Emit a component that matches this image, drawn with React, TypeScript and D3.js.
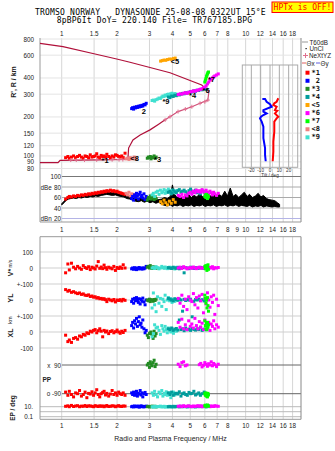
import React from "react";
import * as d3 from "d3";

// ---------------- tick labels ----------------
const freqTicksTop = [1, 1.5, 2, 3, 4, 5, 6, 7, 8, 10, 12, 14, 16, 18];
const freqTicksMid = [1, 1.5, 2, 3, 4, 5, 6, 7, 8, 9, 10, 12, 14, 16, 18];
const freqGrid = [1, 1.5, 2, 3, 4, 5, 6, 7, 8, 10, 12, 14, 16, 18];
const heightTicks = [800, 600, 400, 300, 200, 150, 120, 100, 90, 80];
const dbTicks = [80, 60, 40];
const tiltTicks = [-20, -10, 0, 10, 20];

// ---------------- profile curves ----------------
const upperF = [0.762, 1.016, 1.518, 2.017, 2.35, 3.88, 5.77, 6.25];
const upperH = [741, 698, 613, 558, 529, 439, 353, 317];
const lowF = [0.762, 0.955, 0.98, 1.6, 2.29, 2.31, 2.44, 2.67, 3.02, 3.35, 3.65];
const lowH = [88.7, 88.7, 92.5, 93.2, 93.9, 115, 133, 145, 159, 175, 190];
const nextF = [3.65, 3.88, 4.29, 5.1, 5.65, 6.23, 6.33];
const nextH = [190, 201, 220, 240, 255, 270, 323];
const markF = [1.12, 1.2, 1.33, 1.55, 1.88, 2.05, 2.15, 3.65, 3.88, 4.29, 4.7, 5.1, 5.65, 6.0, 6.23];
const markH = [93, 93, 93, 93.2, 93.5, 93.7, 93.8, 190, 201, 220, 230, 240, 255, 262, 270];

// tilt inset (Θx red, Θy blue)
const thxT = [8.9, 7.1, 4.6, 3.6, 7.1, 5.3, 7.8, 5.3, 8.9, 7.1, 4.6, 4.6, 3.6, 3.6, 2.9];
const thxH = [279, 262, 255, 247, 240, 226, 223, 213, 201, 195, 184, 154, 129, 108, 91];
const thyT = [-8.2, -5.3, -3.6, 0, 1.8, -7.1, -7.1, -3.6, -7.1, -9.6, -10.7, -8.9, -7.1, -7.1, -5.3, -5.3, -4.6];
const thyH = [275, 275, 262, 251, 240, 226, 220, 213, 207, 201, 195, 184, 168, 137, 115, 102, 91];

// noise (dB) band
const noiseF = [1.0, 1.03, 1.06, 1.09, 1.12, 1.16, 1.2, 1.24, 1.28, 1.33, 1.38, 1.43, 1.48, 1.53, 1.58, 1.64, 1.7, 1.76, 1.82, 1.89, 1.96, 2.03, 2.1, 2.18, 2.26, 2.34, 2.43, 2.52, 2.61, 2.71, 2.81, 2.91, 3.02, 3.13, 3.25, 3.37, 3.49, 3.62, 3.75, 3.89, 4.0, 4.1, 4.25, 4.4, 4.56, 4.72, 4.89, 5.06, 5.24, 5.43, 5.62, 5.82, 6.03, 6.24, 6.46, 6.69, 6.93, 7.18, 7.43, 7.7, 7.97, 8.25, 8.55, 8.85, 9.17, 9.49, 9.83, 10.2, 10.5, 10.9, 11.3, 11.7, 12.1, 12.5, 13.0, 13.4, 13.9, 14.4, 14.9, 15.3];
const noiseLo = [46, 50, 55, 57, 58, 59, 58, 60, 59, 61, 60, 62, 61, 63, 62, 64, 65, 66, 65, 64, 65, 63, 62, 61, 58, 57, 55, 53, 52, 54, 51, 53, 50, 52, 49, 51, 47, 45, 44, 46, 43, 45, 44, 46, 43, 45, 44, 46, 43, 45, 44, 46, 43, 45, 44, 46, 43, 45, 44, 46, 43, 45, 44, 46, 43, 45, 44, 43, 45, 42, 44, 43, 45, 42, 44, 43, 42, 43, 42, 42];
const noiseHi = [48, 53, 58, 60, 62, 63, 62, 64, 63, 65, 64, 66, 65, 67, 66, 68, 69, 70, 70, 69, 69, 67, 66, 65, 63, 62, 60, 60, 58, 59, 57, 58, 56, 57, 58, 56, 57, 60, 58, 62, 84, 66, 60, 63, 58, 62, 66, 60, 64, 61, 67, 62, 60, 68, 63, 65, 61, 66, 62, 72, 63, 78, 62, 66, 60, 65, 70, 62, 66, 60, 63, 68, 61, 64, 58, 56, 55, 54, 50, 47];

// ---------------- echo clusters ----------------
// *1 red
const c1F = [1.05, 1.08, 1.1, 1.13, 1.16, 1.19, 1.22, 1.25, 1.28, 1.31, 1.34, 1.37, 1.4, 1.43, 1.46, 1.49, 1.52, 1.55, 1.58, 1.61, 1.64, 1.67, 1.7, 1.73, 1.76, 1.8, 1.84, 1.88, 1.92, 1.96, 2.0, 2.04, 2.08, 2.12, 2.16, 2.21];
const c1H = [97, 99, 96, 98, 100, 97, 99, 101, 98, 96, 100, 99, 97, 102, 98, 99, 100, 104, 98, 97, 101, 99, 100, 98, 103, 99, 97, 100, 98, 102, 101, 99, 98, 100, 97, 105];
const c1Db = [57, 60, 62, 61, 63, 62, 64, 63, 65, 64, 66, 65, 67, 66, 68, 67, 69, 68, 70, 69, 71, 70, 72, 71, 73, 72, 74, 72, 73, 71, 72, 70, 69, 68, 67, 66];
const c1Vs = [-30, 25, -12, 30, 5, -5, 10, 0, -8, 15, 3, -3, 8, -10, 5, 0, -6, 12, 40, -2, 6, -4, 18, 2, -8, 5, 0, -5, 10, -15, 3, -3, 6, -2, 20, 0];
const c1Yl = [65, 55, 60, 48, 52, 45, 40, 44, 35, 38, 30, 28, 32, 22, 25, 18, 20, 12, 15, 8, 10, 5, 8, 2, -10, 5, 0, -5, 3, -12, 0, -3, 2, -6, 4, -2];
const c1Xl = [-20, -60, -50, -65, -40, -35, -45, -25, -30, -15, -20, -5, -10, 5, 0, 10, 15, -5, 8, 20, 5, -30, 10, 0, 6, -10, 3, 8, -5, 2, 12, 0, -8, 5, -3, 10];
const c1Pp = [-80, -100, -75, -95, -110, -85, -90, -70, -105, -95, -80, -115, -88, -92, -78, -100, -85, -65, -95, -110, -90, -82, -75, -98, -88, -105, -92, -70, -95, -85, -100, -80, -90, -95, -85, -100];
const c1Ep = [12, 15, 10, 18, 11, 14, 16, 10, 13, 12, 17, 11, 15, 14, 12, 10, 16, 13, 11, 15, 12, 14, 10, 13, 17, 11, 12, 15, 14, 10, 13, 16, 12, 11, 14, 13];
// 2 blue
const c2F = [2.4, 2.43, 2.46, 2.49, 2.52, 2.55, 2.58, 2.61, 2.64, 2.67, 2.7, 2.73, 2.76, 2.8, 2.84, 2.88];
const c2H = [232, 236, 230, 238, 235, 240, 237, 242, 239, 244, 241, 246, 243, 250, 248, 255];
const c2Db = [58, 62, 55, 65, 60, 68, 63, 57, 66, 70, 61, 64, 59, 67, 56, 62];
const c2Vs = [-5, 0, -8, 2, -3, -10, 0, -6, 3, -4, -2, -7, 1, -5, 0, 10];
const c2Yl = [-10, 5, -20, 10, -5, 15, 0, -15, 8, -25, 3, -8, 12, -12, -30, 0];
const c2Xl = [40, 60, 25, 70, 50, 85, 35, 65, 95, 45, 55, 30, 75, 20, -5, 10];
const c2Pp = [-85, -95, -80, -100, -90, -75, -105, -88, -92, -70, -98, -85, -110, -90, -82, -95];
const c2Ep = [10, 12, 9, 14, 11, 10, 13, 12, 8, 11, 15, 10, 12, 9, 11, 13];
// *3 green
const c3F = [2.92, 2.96, 3.0, 3.03, 3.06, 3.1, 3.14, 3.18, 3.22, 3.26];
const c3H = [96, 98, 97, 99, 95, 98, 97, 100, 96, 98];
const c3Db = [55, 60, 58, 63, 57, 61, 59, 56, 62, 58];
const c3Vs = [5, 10, 0, 15, 2, -3, 8, 0, 5, -2];
const c3Yl = [0, -5, 5, -10, 2, 0, -8, 3, -3, 5];
const c3Xl = [-20, -35, -10, -5, 0, -15, -40, 5, -25, -10];
const c3Pp = [90, 100, 75, 110, 95, 85, 105, 120, 80, 95];
const c3Ep = [10, 12, 9, 11, 10, 13, 10, 11, 12, 9];
// *9 turquoise
const c9F = [3.1, 3.15, 3.2, 3.26, 3.32, 3.38, 3.44, 3.5, 3.55, 3.6, 3.65, 3.7, 3.75, 3.8, 3.86, 3.92, 3.98, 4.05, 4.12, 4.2];
const c9H = [268, 270, 265, 272, 275, 280, 278, 285, 290, 288, 295, 292, 298, 300, 296, 302, 305, 298, 303, 300];
const c9Db = [65, 68, 62, 70, 72, 66, 74, 69, 71, 75, 68, 73, 70, 76, 72, 67, 74, 71, 69, 73];
const c9Vs = [0, 5, -3, 8, 2, -5, 0, 10, 3, -2, 6, 0, -4, 2, 5, -1, 3, 0, -6, 4];
const c9Yl = [-50, 44, -30, -73, 20, -20, 10, -40, 5, -10, 30, -60, 0, 15, -5, 8, -15, 3, -8, 0];
const c9Xl = [-30, -10, 45, 25, 30, 10, -15, 40, 20, 5, 35, 15, -5, 25, 10, 0, 20, -8, 12, 5];
const c9Pp = [-85, -100, -75, -95, -110, -80, -90, -70, -105, -88, -95, -78, -100, -92, -85, -115, -90, -80, -98, -87];
const c9Ep = [10, 8, 12, 9, 11, 10, 13, 9, 10, 12, 8, 11, 10, 9, 12, 10, 11, 9, 10, 12];
// <5 orange
const c5F = [3.45, 3.52, 3.6, 3.68, 3.76, 3.85, 3.94, 4.04, 4.14];
const c5H = [540, 545, 550, 548, 555, 560, 558, 565, 570];
const c5Db = [52, 48, 55, 50, 46, 53, 49, 56, 51];
// *4 teal
const c4F = [3.8, 3.88, 3.96, 4.04, 4.12, 4.2, 4.28, 4.36, 4.45, 4.54, 4.63, 4.72, 4.82, 4.92, 5.02, 5.12, 5.23, 5.34, 5.45, 5.56, 5.68, 5.8, 5.95, 6.1];
const c4H = [285, 282, 290, 288, 294, 292, 298, 296, 300, 304, 302, 308, 306, 310, 314, 312, 318, 316, 322, 320, 326, 324, 330, 328];
const c4Db = [70, 72, 68, 74, 71, 69, 73, 75, 70, 72, 74, 71, 68, 73, 76, 72, 70, 74, 69, 71, 67, 73, 70, 68];
const c4Vs = [2, 0, -3, 5, 0, -2, 4, -5, 0, 3, -30, 2, 0, -4, 5, 0, -3, 2, 0, -2, 4, 0, -3, 1];
const c4Yl = [10, 5, 0, -5, 8, 3, -2, 6, 0, -70, 4, -3, 2, 0, 5, -105, -8, 3, 0, 6, -4, 2, -6, 0];
const c4Xl = [20, 15, 25, 10, 18, 22, 12, 75, 15, 20, 8, 25, 14, 18, 10, 22, 16, 12, 20, 15, 30, 10, 18, 14];
const c4Pp = [-85, -95, -80, -100, -90, -88, -92, -78, -105, -90, -85, -95, -100, -82, -90, -88, -75, -98, -92, -85, -100, -90, -80, -95];
const c4Ep = [10, 11, 9, 12, 10, 10, 11, 9, 12, 10, 11, 10, 9, 12, 10, 11, 10, 9, 11, 10, 12, 10, 11, 9];
// *6 magenta
const c6F = [4.3, 4.4, 4.5, 4.6, 4.7, 4.8, 4.9, 5.0, 5.1, 5.2, 5.3, 5.4, 5.5, 5.6, 5.7, 5.8, 5.9, 6.0, 6.1, 6.2, 6.3, 6.4, 6.5, 6.6, 6.7, 6.8, 6.95, 7.1];
const c6H = [298, 302, 300, 305, 308, 304, 310, 312, 315, 318, 316, 320, 322, 325, 328, 330, 335, 340, 348, 360, 372, 385, 392, 400, 408, 415, 422, 430];
const c6Db = [64, 62, 66, 60, 65, 63, 68, 70, 66, 72, 69, 74, 71, 73, 70, 75, 72, 68, 74, 70, 66, 72, 69, 65, 70, 67, 64, 68];
const c6Vs = [0, 5, -3, 8, 2, -5, 0, 3, -2, 6, 0, -4, 2, 5, -1, 0, 3, -3, 6, 0, -2, 4, 0, 8, -5, 2, 0, 3];
const c6Yl = [10, -20, 30, -40, 5, -60, 20, 0, -10, 40, -30, 15, -50, 25, -5, 35, -80, 10, -25, 45, 0, -45, 20, -15, 30, -90, 5, -35];
const c6Xl = [60, 30, 80, 20, 45, 15, 70, 35, 50, 25, 85, 40, 20, 65, 30, 55, 15, 75, 40, 25, 60, 10, 50, 35, 70, 20, 45, 30];
const c6Pp = [95, 80, 105, 110, 85, 90, null, null, null, null, null, null, null, 92, 100, 78, 88, 105, 95, 82, 98, 90, 110, 85, 100, 92, 80, 95];
const c6Ep = [12, 14, 10, 16, 11, 13, 15, 12, 10, 14, 11, 13, 16, 12, 15, 10, 14, 11, 13, 12, 15, 10, 14, 12, 11, 16, 13, 12];
// *7 lime
const c7F = [6.0, 6.04, 6.08, 6.12, 6.16, 6.2, 6.24, 6.28];
const c7H = [372, 385, 395, 410, 420, 430, 440, 445];
const c7Db = [62, 65, 60, 66, 63, 58, 64, 61];
const c7Vs = [10, -5, 15, 0, -15, 5, 20, -8];
const c7Yl = [30, 10, -20, 0, -50, 15, -35, -70];
const c7Xl = [70, 40, 20, 55, 15, 60, 30, 45];
const c7Pp = [-90, -100, -85, -105, -95, -110, -88, -98];
const c7Ep = [15, 20, 12, 18, 14, 22, 16, 13];
// <8 light coral
const c8F = [2.24, 2.28, 2.32, 2.36, 2.4, 2.44, 2.48, 2.53];
const c8H = [95, 96, 94, 97, 95, 96, 98, 95];
const c8Db = [68, 65, 70, 63, 67, 62, 66, 64];

const legendNames = ["*1", " 2", "*3", "*4", "<5", "*6", "*7", "<8", "*9"];
const legendColors = ["#ff0000", "#0000ff", "#228b22", "#009c9c", "#ffa500", "#ff00ff", "#00ff00", "#f08080", "#40e0d0"];
const labelText = ["*1", "2", "*3", "*4", "<5", "*6", "*7", "<8", "*9"];
const labelF = [1.72, 2.8, 3.32, 5.15, 4.13, 6.1, 6.52, 2.49, 3.69];
const labelH = [93, 220, 94, 295, 534, 323, 387, 96, 262];

type Cl = { color: string; f: number[]; h?: number[]; db?: number[]; vs?: number[]; yl?: number[]; xl?: number[]; pp?: (number | null)[]; ep?: number[] };
const clusters: Cl[] = [
  { color: legendColors[0], f: c1F, h: c1H, db: c1Db, vs: c1Vs, yl: c1Yl, xl: c1Xl, pp: c1Pp, ep: c1Ep },
  { color: legendColors[7], f: c8F, h: c8H, db: c8Db },
  { color: legendColors[1], f: c2F, h: c2H, db: c2Db, vs: c2Vs, yl: c2Yl, xl: c2Xl, pp: c2Pp, ep: c2Ep },
  { color: legendColors[2], f: c3F, h: c3H, db: c3Db, vs: c3Vs, yl: c3Yl, xl: c3Xl, pp: c3Pp, ep: c3Ep },
  { color: legendColors[8], f: c9F, h: c9H, db: c9Db, vs: c9Vs, yl: c9Yl, xl: c9Xl, pp: c9Pp, ep: c9Ep },
  { color: legendColors[4], f: c5F, h: c5H, db: c5Db },
  { color: legendColors[3], f: c4F, h: c4H, db: c4Db, vs: c4Vs, yl: c4Yl, xl: c4Xl, pp: c4Pp, ep: c4Ep },
  { color: legendColors[5], f: c6F, h: c6H, db: c6Db, vs: c6Vs, yl: c6Yl, xl: c6Xl, pp: c6Pp, ep: c6Ep },
  { color: legendColors[6], f: c7F, h: c7H, db: c7Db, vs: c7Vs, yl: c7Yl, xl: c7Xl, pp: c7Pp, ep: c7Ep },
];

// ---------------- scales ----------------
const X0 = 40, X1 = 301;
const fx = d3.scaleLog().domain([0.762, 20]).range([X0, X1]);
const hy = d3.scaleLog().domain([800, 80]).range([39, 168.5]);
const dby = d3.scaleLinear().domain([100, 20]).range([176.5, 218.5]);
const vsy = d3.scaleLinear().domain([100, -100]).range([252, 284]);
const yly = d3.scaleLinear().domain([100, -100]).range([284, 316]);
const xly = d3.scaleLinear().domain([100, -100]).range([316, 348]);
const ppy = d3.scaleLinear().domain([90, -90]).range([365, 393.7]);
const epy = d3.scaleLog().domain([10, 0.1]).range([406.7, 416.7]);
const tx = d3.scaleLinear().domain([-30, 30]).range([242, 298]);

const SANS = "Liberation Sans, Arial, sans-serif";
const MONO = "DejaVu Sans Mono, monospace";

function pts(f: number[], v: (number | null)[] | undefined, ys: (n: number) => number, color: string, key: string) {
  if (!v) return null;
  return f.map((fr, i) => {
    const val = v[i];
    if (val === null || val === undefined) return null;
    return <rect key={key + i} x={fx(fr) - 1.5} y={ys(val) - 1.5} width={3} height={3} fill={color} />;
  });
}

export default function App() {
  const line = (fs: number[], hs: number[]) =>
    d3.line<number>().x((_, i) => fx(fs[i])).y((_, i) => hy(hs[i]))(fs.map((_, i) => i)) || "";
  const tiltLine = (ts: number[], hs: number[]) =>
    d3.line<number>().x((_, i) => tx(ts[i])).y((_, i) => hy(hs[i]))(ts.map((_, i) => i)) || "";
  const noiseArea =
    d3.area<number>()
      .x((i) => fx(noiseF[i]))
      .y0((i) => dby(noiseLo[i]))
      .y1((i) => dby(noiseHi[i]))(noiseF.map((_, i) => i)) || "";

  return (
    <svg width={335} height={451} style={{ position: "absolute", left: 0, top: 0, background: "#fff" }}>
      <rect x={0} y={0} width={335} height={451} fill="#fff" />
      {/* title */}
      <text x={35} y={14.8} fontFamily={MONO} fontSize={8} letterSpacing={0.2} fill="#000" style={{ whiteSpace: "pre" }}>
        {"TROMSO NORWAY   DYNASONDE 25-08-08 0322UT 15°E"}
      </text>
      <text x={56.7} y={23.2} fontFamily={MONO} fontSize={8} letterSpacing={0.2} fill="#000" style={{ whiteSpace: "pre" }}>
        {"8pBP6It DoY= 220.140 File= TR767185.BPG"}
      </text>
      <rect x={272} y={2} width={61} height={10.5} fill="#ffff00" stroke="#ff0000" strokeWidth={1} />
      <text x={302.5} y={10} textAnchor="middle" fontFamily={MONO} fontSize={8} fill="#ff0000" style={{ whiteSpace: "pre" }}>
        {"HPTx is OFF!"}
      </text>

      {/* ---------- top panel grid ---------- */}
      {freqGrid.map((f) => (
        <g key={"vg" + f}>
          <line x1={fx(f)} x2={fx(f)} y1={38} y2={222} stroke="#d6d6d6" />
          <line x1={fx(f)} x2={fx(f)} y1={236.7} y2={419.3} stroke="#d6d6d6" />
        </g>
      ))}
      {heightTicks.map((h) => (
        <g key={"hg" + h}>
          <line x1={X0} x2={X1} y1={hy(h)} y2={hy(h)} stroke="#e4e4e4" />
          <text x={34} y={hy(h)} textAnchor="end" dominantBaseline="central" fontFamily={SANS} fontSize={6.3} fill="#222">{h}</text>
        </g>
      ))}
      {freqTicksTop.map((f) => (
        <text key={"tt" + f} x={fx(f)} y={33.3} textAnchor="middle" dominantBaseline="central" fontFamily={SANS} fontSize={6.3} fill="#222">{f}</text>
      ))}
      <text transform="translate(13,82) rotate(-90)" textAnchor="middle" dominantBaseline="central" fontFamily={SANS} fontSize={7} fontWeight="bold" fill="#222">{"R', R / km"}</text>

      {/* dB panel */}
      <line x1={62} x2={X1} y1={dby(100)} y2={dby(100)} stroke="#777" />
      {dbTicks.map((d) => (
        <line key={"dl" + d} x1={62} x2={X1} y1={dby(d)} y2={dby(d)} stroke="#aaa" />
      ))}
      <line x1={62} x2={X1} y1={dby(20)} y2={dby(20)} stroke="#b4b4e6" />
      <text x={61} y={dby(100)} textAnchor="end" dominantBaseline="central" fontFamily={SANS} fontSize={6.3} fill="#222">100</text>
      {dbTicks.map((d) => (
        <text key={"dt" + d} x={61} y={dby(d)} textAnchor="end" dominantBaseline="central" fontFamily={SANS} fontSize={6.3} fill="#222">{d}</text>
      ))}
      <text x={61} y={dby(20)} textAnchor="end" dominantBaseline="central" fontFamily={SANS} fontSize={6.3} fill="#222">20</text>
      <text x={40.5} y={dby(80)} dominantBaseline="central" fontFamily={SANS} fontSize={6.3} fill="#222">dBe</text>
      <text x={40.5} y={dby(20)} dominantBaseline="central" fontFamily={SANS} fontSize={6.3} fill="#222">dBn</text>

      {/* frames */}
      <line x1={X0} x2={X0} y1={38} y2={222} stroke="#999" />
      <line x1={X1} x2={X1} y1={38} y2={222} stroke="#888" />
      <line x1={X0} x2={X1} y1={222} y2={222} stroke="#999" />
      {freqTicksMid.map((f) => (
        <text key={"tm" + f} x={fx(f)} y={229.3} textAnchor="middle" dominantBaseline="central" fontFamily={SANS} fontSize={6.3} fill="#222">{f}</text>
      ))}

      {/* tilt inset */}
      <rect x={242.3} y={65} width={55.4} height={102.3} fill="none" stroke="#aaa" />
      {tiltTicks.map((t) => (
        <g key={"ti" + t}>
          <line x1={tx(t)} x2={tx(t)} y1={65} y2={167.3} stroke="#aaa" />
          <text x={tx(t)} y={170.7} textAnchor="middle" dominantBaseline="central" fontFamily={SANS} fontSize={4.6} fill="#333">{t}</text>
        </g>
      ))}
      <text x={270} y={175.3} textAnchor="middle" dominantBaseline="central" fontFamily={SANS} fontSize={4.6} fill="#333">Tilt / deg</text>
      <path d={tiltLine(thyT, thyH)} fill="none" stroke="#0000ff" strokeWidth={2} />
      <path d={tiltLine(thxT, thxH)} fill="none" stroke="#ff0000" strokeWidth={2} />

      {/* profile curves */}
      <path d={line(upperF, upperH)} fill="none" stroke="#b0103a" strokeWidth={1.2} />
      <path d={line(lowF, lowH)} fill="none" stroke="#b0103a" strokeWidth={1.2} />
      <path d={line(nextF, nextH)} fill="none" stroke="#d05078" strokeWidth={1.2} />

      {/* noise */}
      <path d={noiseArea} fill="#000" stroke="#000" strokeWidth={1} />

      {/* clusters: height and dB */}
      {clusters.map((c, k) => (
        <g key={"cl" + k}>
          {pts(c.f, c.h, hy, c.color, "h" + k)}
          {pts(c.f, c.db, dby, c.color, "d" + k)}
        </g>
      ))}
      {markF.map((f, i) => (
        <path key={"mk" + i} d={`M${fx(f) - 2},${hy(markH[i])}h4M${fx(f)},${hy(markH[i]) - 2}v4`} stroke="#e07090" strokeWidth={1} />
      ))}
      {labelText.map((t, i) => (
        <text key={"lb" + i} x={fx(labelF[i])} y={hy(labelH[i])} textAnchor="middle" dominantBaseline="central" fontFamily={SANS} fontSize={7.5} fontWeight="bold" fill="#000">{t}</text>
      ))}

      {/* legend */}
      <line x1={302} x2={308} y1={42} y2={42} stroke="#999" />
      <text x={309.5} y={42} dominantBaseline="central" fontFamily={SANS} fontSize={6.3} fill="#222">T60dB</text>
      <rect x={305.5} y={48} width={1.2} height={1.2} fill="#000" />
      <text x={309.5} y={48.5} dominantBaseline="central" fontFamily={SANS} fontSize={6.3} fill="#222">UnCl</text>
      <path d="M303,55.5h5M305.5,53v5" stroke="#e07090" />
      <text x={309} y={55.5} dominantBaseline="central" fontFamily={SANS} fontSize={6.3} fill="#222">NeXtYZ</text>
      <line x1={302} x2={306} y1={63} y2={63} stroke="#e06060" />
      <text x={306.5} y={63} dominantBaseline="central" fontFamily={SANS} fontSize={6.3} fill="#222">Θx</text>
      <line x1={316} x2={320} y1={63} y2={63} stroke="#6060e0" />
      <text x={320.5} y={63} dominantBaseline="central" fontFamily={SANS} fontSize={6.3} fill="#222">Θy</text>
      {legendNames.map((n, i) => (
        <g key={"lg" + i}>
          <rect x={305.5} y={72.7 + i * 8.08 - 2} width={4} height={4} fill={legendColors[i]} />
          <text x={311.5} y={72.7 + i * 8.08} dominantBaseline="central" fontFamily={MONO} fontSize={7} fontWeight="bold" fill="#111" style={{ whiteSpace: "pre" }}>{n}</text>
        </g>
      ))}

      {/* ---------- lower panel ---------- */}
      {[252, 268, 284, 300, 316, 332, 348].map((y) => (
        <line key={"mg" + y} x1={X0} x2={X1} y1={y} y2={y} stroke="#cfcfcf" />
      ))}
      {[[100, 252], [0, 268], ["+-100", 284], [0, 300], ["+-100", 316], [0, 332], [-100, 348]].map(([t, y], i) => (
        <text key={"ml" + i} x={33} y={y as number} textAnchor="end" dominantBaseline="central" fontFamily={SANS} fontSize={6.3} fill="#222">{t}</text>
      ))}
      <text transform="translate(10,268) rotate(-90)" textAnchor="middle" dominantBaseline="central" fontFamily={SANS} fill="#222">
        <tspan fontSize={7} fontWeight="bold">V*</tspan>
        <tspan fontSize={4.8}> m/s</tspan>
      </text>
      <text transform="translate(10,298) rotate(-90)" textAnchor="middle" dominantBaseline="central" fontFamily={SANS} fontSize={7} fontWeight="bold" fill="#222">YL</text>
      <text transform="translate(10,320) rotate(-90)" textAnchor="middle" dominantBaseline="central" fontFamily={SANS} fontSize={5.5} fill="#222">km</text>
      <text transform="translate(10,333) rotate(-90)" textAnchor="middle" dominantBaseline="central" fontFamily={SANS} fontSize={7} fontWeight="bold" fill="#222">XL</text>

      <line x1={62} x2={X1} y1={ppy(90)} y2={ppy(90)} stroke="#666" />
      <line x1={62} x2={X1} y1={ppy(-90)} y2={ppy(-90)} stroke="#666" />
      <text x={61} y={ppy(90)} textAnchor="end" dominantBaseline="central" fontFamily={SANS} fontSize={6.3} fill="#222" style={{ whiteSpace: "pre" }}>{"x  90"}</text>
      <text x={61} y={ppy(-90)} textAnchor="end" dominantBaseline="central" fontFamily={SANS} fontSize={6.3} fill="#222" style={{ whiteSpace: "pre" }}>{"o -90"}</text>
      <text x={42.5} y={379.3} dominantBaseline="central" fontFamily={SANS} fontSize={6.5} fontWeight="bold" fill="#222">PP</text>
      {[10, 1, 0.1].map((v) => (
        <line key={"ep" + v} x1={X0} x2={X1} y1={epy(v)} y2={epy(v)} stroke="#bbb" />
      ))}
      <text x={33} y={epy(10)} textAnchor="end" dominantBaseline="central" fontFamily={SANS} fontSize={6.3} fill="#222">10.</text>
      <text x={33} y={epy(0.1)} textAnchor="end" dominantBaseline="central" fontFamily={SANS} fontSize={6.3} fill="#222">0.1</text>
      <text transform="translate(12,408) rotate(-90)" textAnchor="middle" dominantBaseline="central" fontFamily={SANS} fontSize={6.5} fontWeight="bold" fill="#222">EP / deg</text>

      {clusters.map((c, k) => (
        <g key={"cm" + k}>
          {pts(c.f, c.vs, vsy, c.color, "v" + k)}
          {pts(c.f, c.yl, yly, c.color, "y" + k)}
          {pts(c.f, c.xl, xly, c.color, "x" + k)}
          {pts(c.f, c.pp, ppy, c.color, "p" + k)}
          {pts(c.f, c.ep, epy, c.color, "e" + k)}
        </g>
      ))}

      <line x1={X0} x2={X1} y1={236.7} y2={236.7} stroke="#999" />
      <line x1={X0} x2={X1} y1={419.3} y2={419.3} stroke="#999" />
      <line x1={X0} x2={X0} y1={236.7} y2={419.3} stroke="#999" />
      <line x1={X1} x2={X1} y1={236.7} y2={419.3} stroke="#888" />
      {freqTicksTop.map((f) => (
        <text key={"tb" + f} x={fx(f)} y={425.7} textAnchor="middle" dominantBaseline="central" fontFamily={SANS} fontSize={6.3} fill="#222">{f}</text>
      ))}
      <text x={170.5} y={438.3} textAnchor="middle" dominantBaseline="central" fontFamily={SANS} fontSize={7} fill="#222">Radio and Plasma Frequency / MHz</text>
    </svg>
  );
}
